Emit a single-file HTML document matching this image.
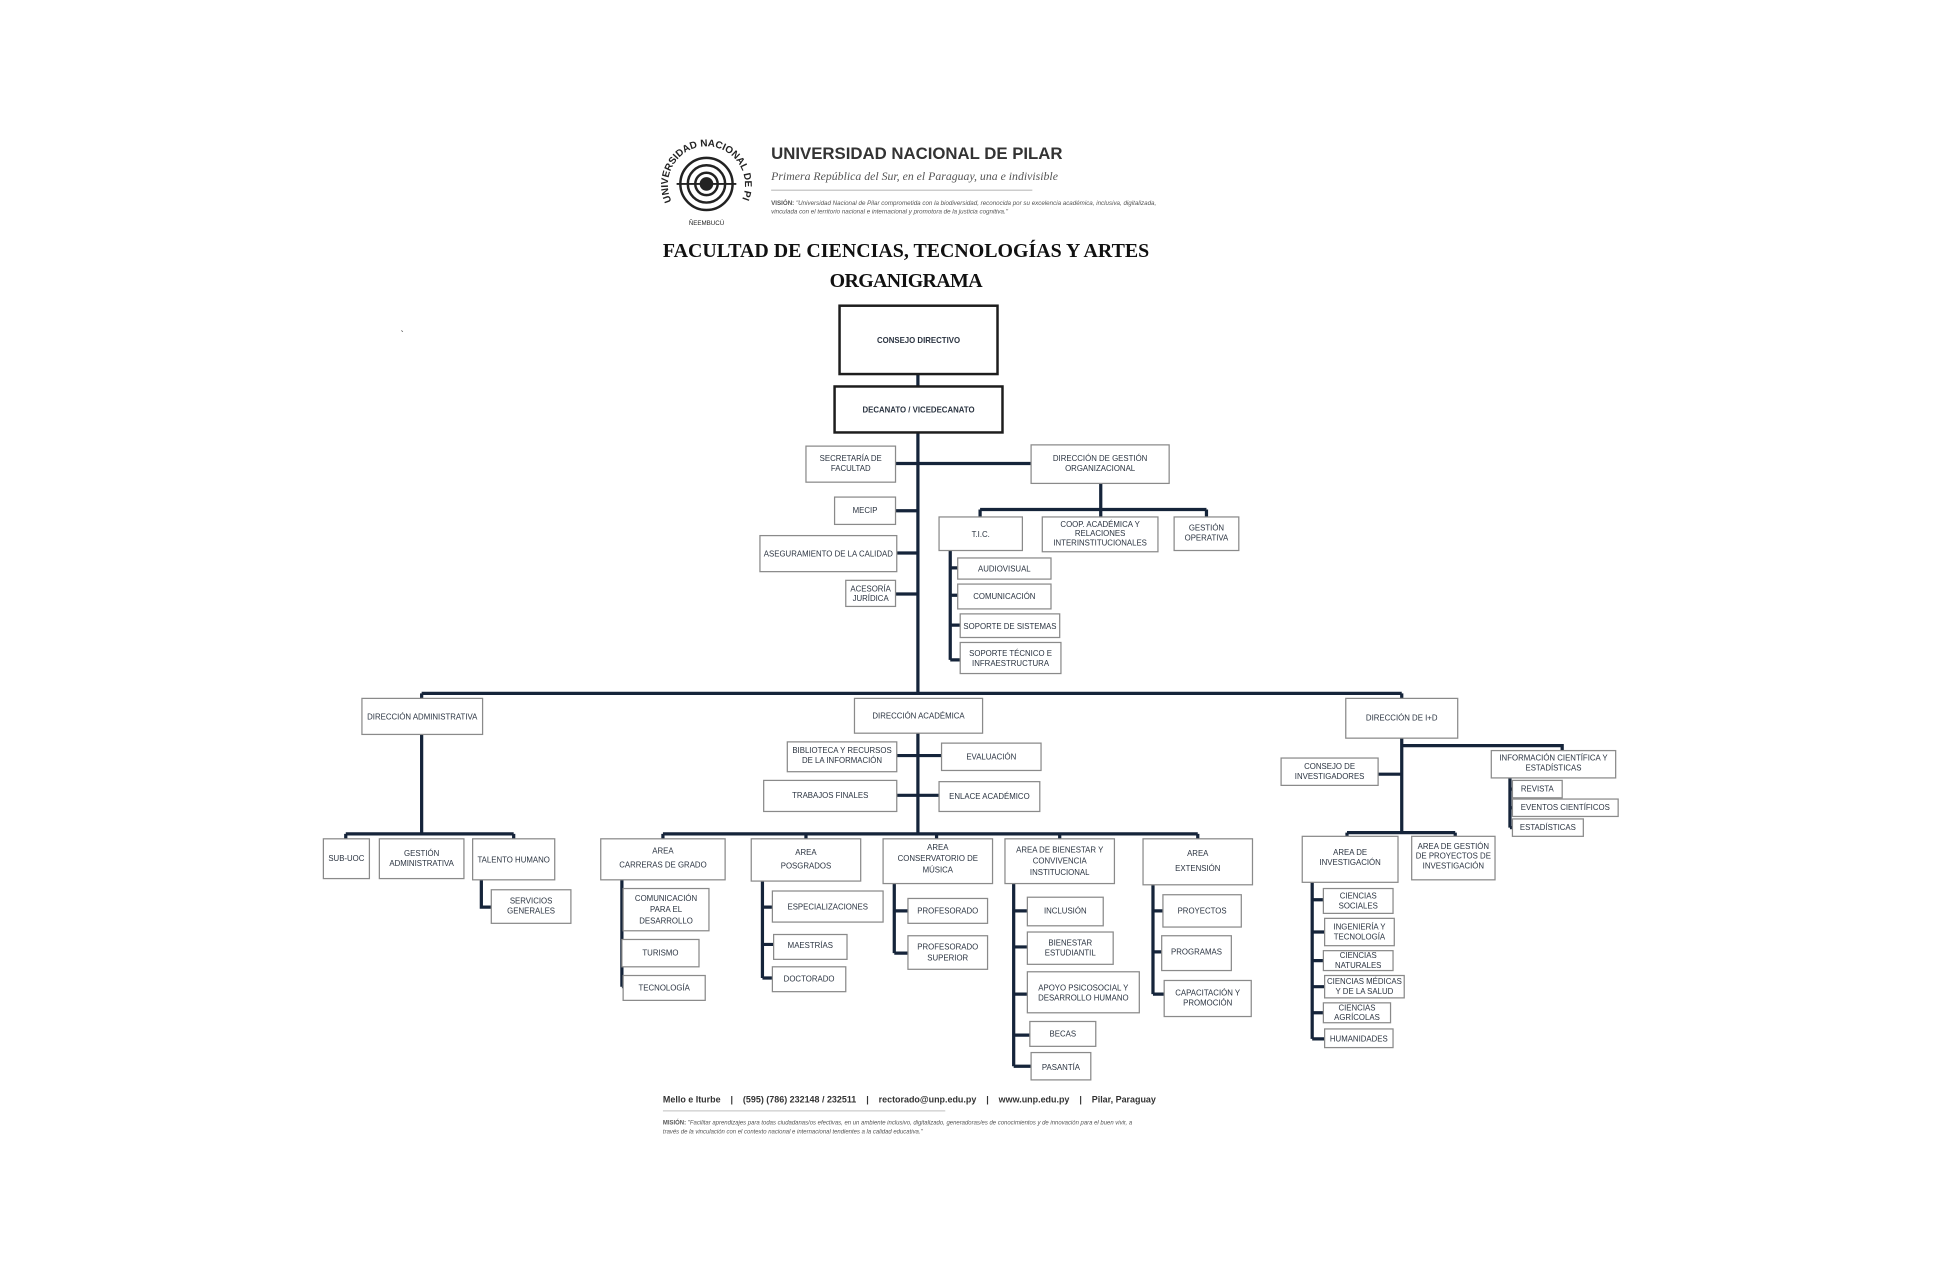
<!DOCTYPE html>
<html><head><meta charset="utf-8"><style>
html,body{margin:0;padding:0;background:#fff;}
svg{display:block;}
.b{fill:#fff;stroke:#8a8a8a;stroke-width:1;}
.bk{fill:#fff;stroke:#1d1d1d;stroke-width:2;}
.l{stroke:#15243a;stroke-width:2.6;fill:none;}
.t{font-family:"Liberation Sans Narrow","Liberation Sans",sans-serif;font-size:6.3px;fill:#2a3340;text-anchor:middle;}
</style></head><body>
<svg width="1949" height="1275" viewBox="0 0 1567 1026" preserveAspectRatio="none" xmlns="http://www.w3.org/2000/svg">
<!-- header logo -->
<g transform="translate(568,148)" fill="none" stroke="#222">
<defs><path id="arc" d="M -28 14 A 31 31 0 1 1 28 14"/></defs>
<text font-family="Liberation Sans" font-size="8" font-weight="bold" fill="#222" stroke="none"><textPath href="#arc">UNIVERSIDAD NACIONAL DE PILAR</textPath></text>
<circle r="21" stroke-width="2"/><circle r="15" stroke-width="2"/><circle r="9" stroke-width="2"/>
<circle r="5" fill="#222"/>
<line x1="-24" y1="0" x2="24" y2="0" stroke-width="1.5"/>
<text y="33" font-family="Liberation Sans" font-size="5" fill="#222" stroke="none" text-anchor="middle">ÑEEMBUCÚ</text>
</g>
<text x="620" y="128" font-family="Liberation Sans" font-weight="bold" font-size="13.5" fill="#333">UNIVERSIDAD NACIONAL DE PILAR</text>
<text x="620" y="145" font-family="Liberation Serif" font-style="italic" font-size="9.5" fill="#555">Primera República del Sur, en el Paraguay, una e indivisible</text>
<line x1="620" y1="153" x2="830" y2="153" stroke="#999" stroke-width="0.6"/>
<text x="620" y="165" font-family="Liberation Sans" font-style="italic" font-size="5" fill="#555"><tspan font-weight="bold" font-style="normal">VISIÓN:</tspan> "Universidad Nacional de Pilar comprometida con la biodiversidad, reconocida por su excelencia académica, inclusiva, digitalizada,</text>
<text x="620" y="172" font-family="Liberation Sans" font-style="italic" font-size="5" fill="#555">vinculada con el territorio nacional e internacional y promotora de la justicia cognitiva."</text>
<text x="533" y="207" font-family="Liberation Serif" font-weight="bold" font-size="16" fill="#111" textLength="391">FACULTAD DE CIENCIAS, TECNOLOGÍAS Y ARTES</text>
<text x="667" y="231" font-family="Liberation Serif" font-weight="bold" font-size="16" fill="#111" textLength="123">ORGANIGRAMA</text>
<text x="322" y="272" font-family="Liberation Sans" font-size="8" fill="#333">`</text>

<!-- lines -->
<g class="l">
<path d="M738 301V558"/>
<path d="M720 373H829"/>
<path d="M885 389V410M788 410H970M788 410V416M885 410V416M970 410V416"/>
<path d="M764 443V531M764 457H770M764 479H770M764 503H772M764 531H772"/>
<path d="M720 411H738M721 445H738M720 478H738"/>
<path d="M339 558H1127M339 558V562M1127 558V562"/>
<path d="M339 591V671M278 671H413M278 671V675M413 671V675M387 708V730H395"/>
<path d="M738 590V671M721 608H757M721 640H755"/>
<path d="M533 671H963M533 671V675M648 671V675M753 671V675M852 671V675M963 671V675"/>
<path d="M500 708V794M500 733H501M500 766H500M500 794H501"/>
<path d="M613 709V787M613 730H621M613 760H622M613 787H621"/>
<path d="M719 711V767M719 733H730M719 767H730"/>
<path d="M815 711V858M815 733H826M815 762H826M815 800H826M815 833H828M815 858H829"/>
<path d="M927 712V800M927 733H935M927 766H934M927 800H936"/>
<path d="M1127 594V670M1127 600H1256V604M1108 623H1127M1083 670H1170M1083 670V673M1170 670V673"/>
<path d="M1214 626V666M1214 635H1216M1214 650H1216M1214 666H1216"/>
<path d="M1055 710V836M1055 724H1064M1055 750H1065M1055 773H1064M1055 794H1065M1055 815H1064M1055 836H1065"/>
</g>

<!-- top boxes -->
<rect class="bk" x="675" y="246" width="127" height="55"/>
<text class="t" x="738.5" y="276" font-weight="bold" font-size="7">CONSEJO DIRECTIVO</text>
<rect class="bk" x="671" y="311" width="135" height="37"/>
<text class="t" x="738.5" y="332" font-weight="bold" font-size="7">DECANATO / VICEDECANATO</text>

<g>
<rect class="b" x="648" y="359" width="72" height="29"/><text class="t" x="684" y="371">SECRETARÍA DE<tspan x="684" dy="8">FACULTAD</tspan></text>
<rect class="b" x="829" y="358" width="111" height="31"/><text class="t" x="884.5" y="371">DIRECCIÓN DE GESTIÓN<tspan x="884.5" dy="8">ORGANIZACIONAL</tspan></text>
<rect class="b" x="671" y="400" width="49" height="22"/><text class="t" x="695.5" y="413">MECIP</text>
<rect class="b" x="611" y="431" width="110" height="29"/><text class="t" x="666" y="448">ASEGURAMIENTO DE LA CALIDAD</text>
<rect class="b" x="680" y="467" width="40" height="21"/><text class="t" x="700" y="476">ACESORÍA<tspan x="700" dy="7.5">JURÍDICA</tspan></text>
<rect class="b" x="755" y="416" width="67" height="27"/><text class="t" x="788.5" y="432">T.I.C.</text>
<rect class="b" x="838" y="416" width="93" height="28"/><text class="t" x="884.5" y="424">COOP. ACADÉMICA Y<tspan x="884.5" dy="7.5">RELACIONES</tspan><tspan x="884.5" dy="7.5">INTERINSTITUCIONALES</tspan></text>
<rect class="b" x="944" y="416" width="52" height="27"/><text class="t" x="970" y="427">GESTIÓN<tspan x="970" dy="8">OPERATIVA</tspan></text>
<rect class="b" x="770" y="449" width="75" height="17"/><text class="t" x="807.5" y="460">AUDIOVISUAL</text>
<rect class="b" x="770" y="470" width="75" height="20"/><text class="t" x="807.5" y="482">COMUNICACIÓN</text>
<rect class="b" x="772" y="494" width="80" height="19"/><text class="t" x="812" y="506">SOPORTE DE SISTEMAS</text>
<rect class="b" x="772" y="517" width="81" height="25"/><text class="t" x="812.5" y="528">SOPORTE TÉCNICO E<tspan x="812.5" dy="8">INFRAESTRUCTURA</tspan></text>

<!-- Direcciones -->
<rect class="b" x="291" y="562" width="97" height="29"/><text class="t" x="339.5" y="579">DIRECCIÓN ADMINISTRATIVA</text>
<rect class="b" x="687" y="562" width="103" height="28"/><text class="t" x="738.5" y="578">DIRECCIÓN ACADÉMICA</text>
<rect class="b" x="1082" y="562" width="90" height="32"/><text class="t" x="1127" y="580">DIRECCIÓN DE I+D</text>

<rect class="b" x="260" y="675" width="37" height="32"/><text class="t" x="278.5" y="693">SUB-UOC</text>
<rect class="b" x="305" y="675" width="68" height="32"/><text class="t" x="339" y="689">GESTIÓN<tspan x="339" dy="8">ADMINISTRATIVA</tspan></text>
<rect class="b" x="380" y="675" width="66" height="33"/><text class="t" x="413" y="694">TALENTO HUMANO</text>
<rect class="b" x="395" y="716" width="64" height="27"/><text class="t" x="427" y="727">SERVICIOS<tspan x="427" dy="8">GENERALES</tspan></text>

<rect class="b" x="633" y="597" width="88" height="24"/><text class="t" x="677" y="606">BIBLIOTECA Y RECURSOS<tspan x="677" dy="8">DE LA INFORMACIÓN</tspan></text>
<rect class="b" x="757" y="598" width="80" height="22"/><text class="t" x="797" y="611">EVALUACIÓN</text>
<rect class="b" x="614" y="628" width="107" height="25"/><text class="t" x="667.5" y="642">TRABAJOS FINALES</text>
<rect class="b" x="755" y="629" width="81" height="24"/><text class="t" x="795.5" y="643">ENLACE ACADÉMICO</text>

<rect class="b" x="483" y="675" width="100" height="33"/><text class="t" x="533" y="687">AREA<tspan x="533" dy="11">CARRERAS DE GRADO</tspan></text>
<rect class="b" x="604" y="675" width="88" height="34"/><text class="t" x="648" y="688">AREA<tspan x="648" dy="11">POSGRADOS</tspan></text>
<rect class="b" x="710" y="675" width="88" height="36"/><text class="t" x="754" y="684">AREA<tspan x="754" dy="9">CONSERVATORIO DE</tspan><tspan x="754" dy="9">MÚSICA</tspan></text>
<rect class="b" x="808" y="675" width="88" height="36"/><text class="t" x="852" y="686">AREA DE BIENESTAR Y<tspan x="852" dy="9">CONVIVENCIA</tspan><tspan x="852" dy="9">INSTITUCIONAL</tspan></text>
<rect class="b" x="919" y="675" width="88" height="37"/><text class="t" x="963" y="689">AREA<tspan x="963" dy="12">EXTENSIÓN</tspan></text>

<rect class="b" x="501" y="715" width="69" height="34"/><text class="t" x="535.5" y="725">COMUNICACIÓN<tspan x="535.5" dy="9">PARA EL</tspan><tspan x="535.5" dy="9">DESARROLLO</tspan></text>
<rect class="b" x="500" y="756" width="62" height="22"/><text class="t" x="531" y="769">TURISMO</text>
<rect class="b" x="501" y="785" width="66" height="20"/><text class="t" x="534" y="797">TECNOLOGÍA</text>
<rect class="b" x="621" y="717" width="89" height="25"/><text class="t" x="665.5" y="732">ESPECIALIZACIONES</text>
<rect class="b" x="622" y="752" width="59" height="20"/><text class="t" x="651.5" y="763">MAESTRÍAS</text>
<rect class="b" x="621" y="778" width="59" height="20"/><text class="t" x="650.5" y="790">DOCTORADO</text>
<rect class="b" x="730" y="723" width="64" height="20"/><text class="t" x="762" y="735">PROFESORADO</text>
<rect class="b" x="730" y="753" width="64" height="27"/><text class="t" x="762" y="764">PROFESORADO<tspan x="762" dy="9">SUPERIOR</tspan></text>
<rect class="b" x="826" y="722" width="61" height="23"/><text class="t" x="856.5" y="735">INCLUSIÓN</text>
<rect class="b" x="826" y="750" width="69" height="26"/><text class="t" x="860.5" y="761">BIENESTAR<tspan x="860.5" dy="8">ESTUDIANTIL</tspan></text>
<rect class="b" x="826" y="782" width="90" height="33"/><text class="t" x="871" y="797">APOYO PSICOSOCIAL Y<tspan x="871" dy="8">DESARROLLO HUMANO</tspan></text>
<rect class="b" x="828" y="822" width="53" height="20"/><text class="t" x="854.5" y="834">BECAS</text>
<rect class="b" x="829" y="847" width="48" height="22"/><text class="t" x="853" y="861">PASANTÍA</text>
<rect class="b" x="935" y="720" width="63" height="26"/><text class="t" x="966.5" y="735">PROYECTOS</text>
<rect class="b" x="934" y="753" width="56" height="28"/><text class="t" x="962" y="768">PROGRAMAS</text>
<rect class="b" x="936" y="789" width="70" height="29"/><text class="t" x="971" y="801">CAPACITACIÓN Y<tspan x="971" dy="8">PROMOCIÓN</tspan></text>

<rect class="b" x="1030" y="610" width="78" height="22"/><text class="t" x="1069" y="619">CONSEJO DE<tspan x="1069" dy="8">INVESTIGADORES</tspan></text>
<rect class="b" x="1199" y="604" width="100" height="22"/><text class="t" x="1249" y="612">INFORMACIÓN CIENTÍFICA Y<tspan x="1249" dy="8">ESTADÍSTICAS</tspan></text>
<rect class="b" x="1216" y="628" width="40" height="14"/><text class="t" x="1236" y="637">REVISTA</text>
<rect class="b" x="1216" y="643" width="85" height="14"/><text class="t" x="1258.5" y="652">EVENTOS CIENTÍFICOS</text>
<rect class="b" x="1216" y="659" width="57" height="14"/><text class="t" x="1244.5" y="668">ESTADÍSTICAS</text>
<rect class="b" x="1047" y="673" width="77" height="37"/><text class="t" x="1085.5" y="688">AREA DE<tspan x="1085.5" dy="8">INVESTIGACIÓN</tspan></text>
<rect class="b" x="1135" y="673" width="67" height="35"/><text class="t" x="1168.5" y="683">AREA DE GESTIÓN<tspan x="1168.5" dy="8">DE PROYECTOS DE</tspan><tspan x="1168.5" dy="8">INVESTIGACIÓN</tspan></text>
<rect class="b" x="1064" y="715" width="56" height="20"/><text class="t" x="1092" y="723">CIENCIAS<tspan x="1092" dy="8">SOCIALES</tspan></text>
<rect class="b" x="1065" y="739" width="56" height="22"/><text class="t" x="1093" y="748">INGENIERÍA Y<tspan x="1093" dy="8">TECNOLOGÍA</tspan></text>
<rect class="b" x="1064" y="765" width="56" height="16"/><text class="t" x="1092" y="771">CIENCIAS<tspan x="1092" dy="8">NATURALES</tspan></text>
<rect class="b" x="1065" y="785" width="64" height="18"/><text class="t" x="1097" y="792">CIENCIAS MÉDICAS<tspan x="1097" dy="8">Y DE LA SALUD</tspan></text>
<rect class="b" x="1064" y="807" width="54" height="16"/><text class="t" x="1091" y="813">CIENCIAS<tspan x="1091" dy="8">AGRÍCOLAS</tspan></text>
<rect class="b" x="1065" y="828" width="55" height="15"/><text class="t" x="1092.5" y="838">HUMANIDADES</text>
</g>

<!-- footer -->
<text x="533" y="887" font-family="Liberation Sans" font-weight="bold" font-size="7.2" fill="#333" xml:space="preserve">Mello e Iturbe    |    (595) (786) 232148 / 232511    |    rectorado@unp.edu.py    |    www.unp.edu.py    |    Pilar, Paraguay</text>
<line x1="533" y1="894" x2="760" y2="894" stroke="#999" stroke-width="0.5"/>
<text x="533" y="905" font-family="Liberation Sans" font-style="italic" font-size="4.8" fill="#555"><tspan font-weight="bold" font-style="normal">MISIÓN:</tspan> "Facilitar aprendizajes para todas ciudadanas/os efectivas, en un ambiente inclusivo, digitalizado, generadoras/es de conocimientos y de innovación para el buen vivir, a</text>
<text x="533" y="912" font-family="Liberation Sans" font-style="italic" font-size="4.8" fill="#555">través de la vinculación con el contexto nacional e internacional tendientes a la calidad educativa."</text>
</svg>
</body></html>
